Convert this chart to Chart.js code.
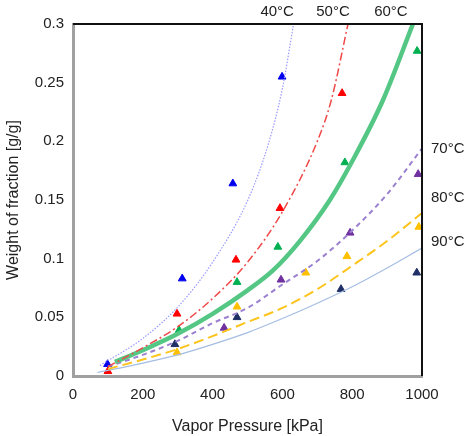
<!DOCTYPE html>
<html lang="en">
<head>
  <meta charset="UTF-8">
  <title>Weight of fraction vs vapor pressure</title>
  <script src="https://cdn.jsdelivr.net/npm/chart.js"></script>
  <style>
    body, html { margin: 0; padding: 0; background: #fff; }
    #wrap { width: 469px; height: 436px; }
  </style>
</head>
<body>
  <div id="wrap"><canvas id="chart" width="469" height="436"></canvas></div>

  <script>
    // measured points (triangles), x in kPa, y in g/g
    const pts40x = [99, 313, 458, 599];
    const pts40y = [0.010, 0.083, 0.164, 0.255];
    const pts50x = [100, 298, 467, 593, 771];
    const pts50y = [0.004, 0.053, 0.099, 0.143, 0.241];
    const pts60x = [304, 470, 587, 779, 986];
    const pts60y = [0.039, 0.080, 0.110, 0.182, 0.277];
    const pts70x = [433, 596, 794, 989];
    const pts70y = [0.041, 0.082, 0.122, 0.172];
    const pts80x = [298, 470, 667, 785, 991];
    const pts80y = [0.020, 0.059, 0.088, 0.102, 0.127];
    const pts90x = [292, 470, 768, 985];
    const pts90y = [0.027, 0.050, 0.074, 0.088];

    // model curves
    const fit40x = [77, 200, 304, 400, 501, 560, 600, 632];
    const fit40y = [0.009, 0.032, 0.060, 0.097, 0.150, 0.198, 0.245, 0.300];
    const fit50x = [100, 200, 300, 400, 500, 600, 700, 740, 788];
    const fit50y = [0.008, 0.024, 0.042, 0.066, 0.097, 0.140, 0.200, 0.235, 0.300];
    const fit60x = [120, 200, 300, 400, 500, 573, 650, 736, 800, 888, 974];
    const fit60y = [0.012, 0.022, 0.036, 0.053, 0.073, 0.090, 0.115, 0.150, 0.183, 0.235, 0.300];
    const fit70x = [100, 200, 300, 400, 500, 600, 700, 800, 900, 1000];
    const fit70y = [0.008, 0.018, 0.030, 0.045, 0.058, 0.078, 0.098, 0.124, 0.155, 0.194];
    const fit80x = [100, 200, 300, 400, 500, 600, 700, 800, 900, 1000];
    const fit80y = [0.006, 0.014, 0.023, 0.034, 0.046, 0.058, 0.074, 0.094, 0.115, 0.139];
    const fit90x = [70, 200, 300, 400, 500, 600, 700, 800, 900, 1000];
    const fit90y = [0.003, 0.011, 0.018, 0.027, 0.037, 0.049, 0.062, 0.076, 0.092, 0.109];

    // curve labels: top ones placed at an x value, side ones at a y value
    const topLabels = [['40°C', 585], ['50°C', 745], ['60°C', 911]];
    const sideLabels = [['70°C', 0.194], ['80°C', 0.152], ['90°C', 0.114]];

    const xTicks = [0, 200, 400, 600, 800, 1000];
    const yTicks = [0, 0.05, 0.1, 0.15, 0.2, 0.25, 0.3];

    const FONT = '"Liberation Sans", Arial, sans-serif';
    const TEXT = '#222';

    function zip(xs, ys) {
      return xs.map((x, i) => ({ x: x, y: ys[i] }));
    }

    function curve(xs, ys, color, width, dash) {
      return {
        type: 'line',
        data: zip(xs, ys),
        borderColor: color,
        borderWidth: width,
        borderDash: dash,
        pointRadius: 0,
        fill: false,
        cubicInterpolationMode: 'monotone'
      };
    }

    function marks(xs, ys, color) {
      return {
        type: 'scatter',
        data: zip(xs, ys),
        pointStyle: 'triangle',
        pointRadius: 4.5,
        backgroundColor: color,
        borderColor: color,
        borderWidth: 1
      };
    }

    const labelsPlugin = {
      id: 'labels',
      afterDraw(chart) {
        const ctx = chart.ctx;
        const area = chart.chartArea;
        const xs = chart.scales.x, ys = chart.scales.y;
        ctx.save();
        // black top and right frame
        ctx.strokeStyle = '#111';
        ctx.lineWidth = 2;
        ctx.beginPath();
        ctx.moveTo(area.left, area.top);
        ctx.lineTo(area.right, area.top);
        ctx.lineTo(area.right, area.bottom);
        ctx.stroke();

        ctx.fillStyle = TEXT;
        ctx.font = '15px ' + FONT;
        ctx.textAlign = 'center';
        ctx.textBaseline = 'middle';
        topLabels.forEach(l => ctx.fillText(l[0], xs.getPixelForValue(l[1]), area.top - 12));
        ctx.textAlign = 'left';
        sideLabels.forEach(l => ctx.fillText(l[0], area.right + 9, ys.getPixelForValue(l[1])));
        ctx.restore();
      }
    };

    new Chart(document.getElementById('chart'), {
      data: {
        datasets: [
          curve(fit40x, fit40y, '#9a9aff', 1.2, [1.5, 1.5]),
          curve(fit50x, fit50y, '#f04848', 1.5, [8, 3, 2, 3]),
          curve(fit60x, fit60y, '#55c785', 4.5, []),
          curve(fit60x, fit60y, '#a8e8c2', 1, []),
          curve(fit70x, fit70y, '#9b80d0', 2, [5, 4]),
          curve(fit80x, fit80y, '#fcc41c', 2, [10, 5]),
          curve(fit90x, fit90y, '#a5bde3', 1.2, []),
          marks(pts40x, pts40y, '#0000ee'),
          marks(pts50x, pts50y, '#ff0000'),
          marks(pts60x, pts60y, '#00b050'),
          marks(pts70x, pts70y, '#7030a0'),
          marks(pts80x, pts80y, '#ffc000'),
          marks(pts90x, pts90y, '#1f2f66')
        ]
      },
      options: {
        responsive: false,
        animation: false,
        layout: { padding: { left: 0, right: 47, top: 24, bottom: 0 } },
        plugins: { legend: { display: false }, tooltip: { enabled: false } },
        scales: {
          x: {
            type: 'linear',
            min: 0,
            max: 1000,
            afterBuildTicks: s => { s.ticks = xTicks.map(v => ({ value: v })); },
            afterFit: s => { s.height = 60; },
            grid: { display: false, drawTicks: false },
            border: { display: true, color: '#a0a0a0', width: 3 },
            ticks: { color: TEXT, font: { size: 15, family: FONT }, padding: 10, maxRotation: 0,
                     callback: v => String(v) },
            title: { display: true, text: 'Vapor Pressure [kPa]', color: TEXT,
                     font: { size: 16, family: FONT }, padding: { top: 4, bottom: 0 } }
          },
          y: {
            type: 'linear',
            min: 0,
            max: 0.3,
            afterBuildTicks: s => { s.ticks = yTicks.map(v => ({ value: v })); },
            afterFit: s => { s.width = 73; },
            grid: { display: false, drawTicks: false },
            border: { display: true, color: '#a0a0a0', width: 3 },
            ticks: { color: TEXT, font: { size: 15, family: FONT }, padding: 9,
                     callback: v => String(Math.round(v * 100) / 100) },
            title: { display: true, text: 'Weight of fraction [g/g]', color: TEXT,
                     font: { size: 16, family: FONT }, padding: { top: 4, bottom: 0 } }
          }
        }
      },
      plugins: [labelsPlugin]
    });
  </script>
</body>
</html>
